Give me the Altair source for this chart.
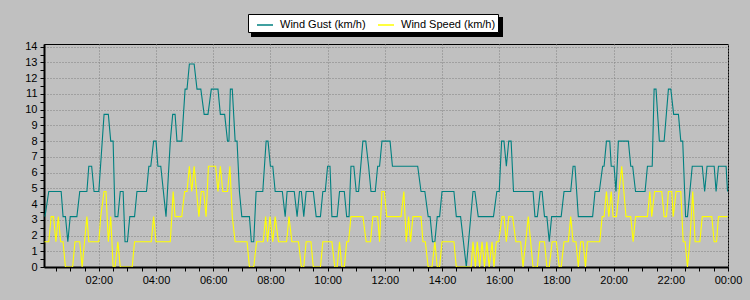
import altair as alt
import pandas as pd

# minutes after midnight (axis runs 00:05 -> 24:00) and values in km/h
gust_t = [7, 15, 41, 45, 50, 55, 60, 74, 80, 95, 99, 105, 110, 120, 131, 140, 145, 150, 154, 160,
          165, 171, 175, 180, 185, 195, 200, 220, 225, 229, 235, 240, 244, 250, 261, 270, 275, 280,
          284, 294, 301, 305, 310, 320, 326, 334, 341, 349, 356, 370, 375, 384, 390, 393, 396, 400,
          406, 410, 415, 420, 436, 440, 445, 450, 464, 471, 475, 480, 485, 490, 505, 511, 515, 530,
          536, 541, 545, 550, 555, 570, 576, 585, 590, 595, 600, 605, 609, 620, 625, 635, 640, 645,
          649, 655, 660, 665, 674, 680, 686, 691, 700, 705, 709, 714, 731, 736, 789, 796, 804, 811,
          815, 820, 825, 830, 835, 840, 865, 870, 879, 891, 905, 909, 916, 948, 955, 960, 965, 970,
          975, 980, 985, 990, 1031, 1035, 1040, 1046, 1050, 1055, 1060, 1065, 1070, 1090, 1096, 1110,
          1115, 1119, 1126, 1156, 1161, 1170, 1177, 1180, 1185, 1192, 1195, 1201, 1205, 1210, 1231,
          1236, 1240, 1246, 1266, 1271, 1281, 1285, 1289, 1296, 1306, 1315, 1320, 1326, 1336, 1341,
          1345, 1351, 1355, 1365, 1386, 1391, 1396, 1411, 1415, 1420, 1436, 1439]
gust_v = [3.2, 4.8, 4.8, 3.2, 3.2, 1.6, 3.2, 3.2, 4.8, 4.8, 6.4, 6.4, 4.8, 4.8, 9.7, 9.7, 8.0, 8.0, 3.2, 3.2,
          4.8, 4.8, 1.6, 1.6, 3.2, 3.2, 4.8, 4.8, 6.4, 6.4, 8.0, 8.0, 6.4, 6.4, 3.2, 8.0, 9.7, 9.7,
          8.0, 8.0, 11.3, 11.3, 12.9, 12.9, 11.3, 11.3, 9.7, 9.7, 11.3, 11.3, 9.7, 9.7, 8.0, 8.0, 11.3, 11.3,
          8.0, 8.0, 4.8, 3.2, 3.2, 1.6, 1.6, 4.8, 4.8, 8.0, 8.0, 6.4, 6.4, 4.8, 4.8, 3.2, 4.8, 4.8,
          3.2, 4.8, 4.8, 3.2, 4.8, 4.8, 3.2, 3.2, 4.8, 4.8, 6.4, 6.4, 3.2, 3.2, 4.8, 4.8, 3.2, 3.2,
          6.4, 6.4, 4.8, 4.8, 8.0, 8.0, 6.4, 4.8, 4.8, 6.4, 6.4, 8.0, 8.0, 6.4, 6.4, 4.8, 4.8, 3.2,
          3.2, 1.6, 1.6, 3.2, 3.2, 4.8, 4.8, 3.2, 3.2, 0.0, 4.8, 4.8, 3.2, 3.2, 4.8, 4.8, 8.0, 8.0,
          6.4, 8.0, 8.0, 4.8, 4.8, 3.2, 3.2, 4.8, 4.8, 3.2, 3.2, 1.6, 3.2, 3.2, 4.8, 4.8,
          6.4, 6.4, 3.2, 3.2, 4.8, 4.8, 6.4, 6.4, 8.0, 8.0, 6.4, 6.4, 4.8, 8.0, 8.0,
          6.4, 6.4, 4.8, 4.8, 6.4, 6.4, 11.3, 11.3, 8.0, 8.0, 11.3, 11.3, 9.7, 9.7, 8.0,
          8.0, 3.2, 3.2, 6.4, 6.4, 4.8, 6.4, 6.4, 4.8, 6.4, 6.4, 4.8]

speed_t = [6, 15, 20, 25, 30, 35, 40, 45, 50, 65, 70, 80, 85, 95, 99, 120, 124, 131, 135, 140,
           145, 150, 154, 160, 165, 190, 195, 230, 235, 240, 270, 276, 280, 294, 300, 305, 310, 315,
           320, 325, 330, 335, 340, 345, 350, 365, 370, 375, 380, 390, 395, 400, 406, 431, 436, 445,
           451, 465, 470, 474, 479, 485, 490, 497, 514, 519, 525, 539, 545, 550, 555, 565, 570, 585,
           590, 609, 615, 620, 625, 630, 635, 640, 644, 649, 674, 681, 690, 695, 705, 709, 714, 719,
           724, 754, 760, 765, 770, 774, 779, 796, 800, 805, 811, 819, 825, 830, 835, 840, 865, 870,
           901, 905, 910, 914, 919, 924, 929, 934, 939, 945, 949, 954, 959, 966, 970, 975, 980, 988,
           995, 1005, 1010, 1021, 1031, 1040, 1045, 1055, 1060, 1065, 1071, 1080, 1086, 1090, 1096,
           1105, 1110, 1115, 1121, 1126, 1131, 1136, 1141, 1145, 1171, 1176, 1180, 1185, 1190, 1195,
           1199, 1206, 1217, 1226, 1236, 1241, 1246, 1271, 1276, 1280, 1286, 1301, 1306, 1311, 1315,
           1322, 1325, 1331, 1341, 1346, 1350, 1355, 1360, 1366, 1371, 1381, 1386, 1406, 1411, 1416,
           1420, 1439]
speed_v = [1.6, 1.6, 3.2, 3.2, 1.6, 3.2, 1.6, 1.6, 0.0, 0.0, 1.6, 1.6, 0.0, 3.2, 1.6, 1.6, 3.2, 4.8, 4.8, 1.6,
           3.2, 0.0, 0.0, 1.6, 0.0, 0.0, 1.6, 1.6, 3.2, 1.6, 1.6, 4.8, 3.2, 3.2, 4.8, 4.8, 6.4, 4.8,
           6.4, 4.8, 3.2, 4.8, 4.8, 3.2, 6.4, 6.4, 4.8, 6.4, 4.8, 4.8, 6.4, 3.2, 1.6, 1.6, 0.0, 0.0,
           1.6, 1.6, 3.2, 1.6, 3.2, 1.6, 3.2, 1.6, 1.6, 3.2, 1.6, 1.6, 0.0, 0.0, 1.6, 1.6, 0.0, 0.0,
           1.6, 1.6, 0.0, 0.0, 1.6, 0.0, 0.0, 1.6, 1.6, 3.2, 3.2, 1.6, 1.6, 3.2, 3.2, 1.6, 4.8, 4.8,
           3.2, 3.2, 4.8, 1.6, 3.2, 1.6, 3.2, 3.2, 1.6, 1.6, 0.0, 0.0, 1.6, 0.0, 0.0, 1.6, 1.6, 0.0,
           0.0, 1.6, 0.0, 1.6, 0.0, 1.6, 0.0, 1.6, 0.0, 1.6, 0.0, 1.6, 1.6, 3.2, 3.2, 1.6, 3.2, 3.2,
           1.6, 1.6, 0.0, 3.2, 0.0, 0.0, 1.6, 1.6, 0.0, 0.0, 1.6, 1.6, 0.0, 0.0, 1.6,
           1.6, 3.2, 1.6, 1.6, 0.0, 1.6, 1.6, 0.0, 1.6, 1.6, 3.2, 3.2, 4.8, 3.2, 4.8,
           3.2, 3.2, 6.4, 3.2, 3.2, 1.6, 3.2, 3.2, 4.8, 3.2, 4.8, 4.8, 3.2, 3.2, 4.8,
           4.8, 3.2, 4.8, 4.8, 1.6, 1.6, 0.0, 1.6, 4.8, 1.6, 1.6, 3.2, 3.2, 1.6, 1.6,
           3.2, 3.2]

series_names = ["Wind Gust (km/h)", "Wind Speed (km/h)"]
series_colors = ["#008080", "#FFFF00"]
x_ticks = list(range(30, 1441, 30))
y_ticks = [i / 2 for i in range(0, 29)]

gust = pd.DataFrame({"t": gust_t, "v": gust_v, "series": series_names[0]})
speed = pd.DataFrame({"t": speed_t, "v": speed_v, "series": series_names[1]})

x_enc = alt.X("t:Q", scale=alt.Scale(domain=[5, 1440], nice=False, zero=False),
              axis=alt.Axis(values=x_ticks, title=None, labelFlush=False, labelOverlap=False,
                            labelExpr="datum.value % 120 === 0 ? ((floor(datum.value/60) % 24) < 10 ? '0' : '') + (floor(datum.value/60) % 24) + ':00' : ''",
                            gridOpacity={"condition": {"test": "datum.value % 120 === 0", "value": 1}, "value": 0}))
y_enc = alt.Y("v:Q", scale=alt.Scale(domain=[0, 14.17], nice=False),
              axis=alt.Axis(values=y_ticks, title=None, labelOverlap=False,
                            labelExpr="datum.value % 1 === 0 ? format(datum.value, 'd') : ''",
                            gridOpacity={"condition": {"test": "datum.value % 1 === 0", "value": 1}, "value": 0}))
color_enc = alt.Color("series:N", scale=alt.Scale(domain=series_names, range=series_colors),
                      legend=alt.Legend(title=None, orient="none", legendX=204, legendY=-30,
                                        direction="horizontal", fillColor="white", strokeColor="black",
                                        padding=2, symbolType="stroke", symbolSize=256, symbolOffset=6,
                                        symbolStrokeWidth=1.5, labelFontSize=11, labelFont="Liberation Sans",
                                        labelColor="black", columnPadding=5, labelOffset=6))

# drop shadow behind the legend box (decoration, pixel positions)
shadow = alt.Chart(pd.DataFrame({"k": [0]})).mark_rect(color="black", clip=False).encode(
    x=alt.value(207), x2=alt.value(207 + 252), y=alt.value(-27), y2=alt.value(-27 + 20)
)

l1 = alt.Chart(gust).mark_line(strokeWidth=1.1, clip=True).encode(x=x_enc, y=y_enc, color=color_enc)
l2 = alt.Chart(speed).mark_line(strokeWidth=1.1, clip=True).encode(x=x_enc, y=y_enc, color=color_enc)

chart = alt.layer(shadow, l1, l2).properties(
    width=684, height=223,
    autosize=alt.AutoSizeParams(type="none"),
    padding={"left": 44, "top": 44, "right": 22, "bottom": 33},
    background="#C0C0C0",
).configure_view(
    stroke="black", strokeWidth=1, fill="#C0C0C0"
).configure_axis(
    domainColor="black", domainWidth=2, tickColor="black", tickSize=4,
    labelFont="Liberation Sans", labelFontSize=11, labelColor="black", labelPadding=3,
    gridColor="#808080", gridDash=[1, 2], gridWidth=1
)

chart.save("out.html", embed_options={"renderer": "svg", "actions": False})
